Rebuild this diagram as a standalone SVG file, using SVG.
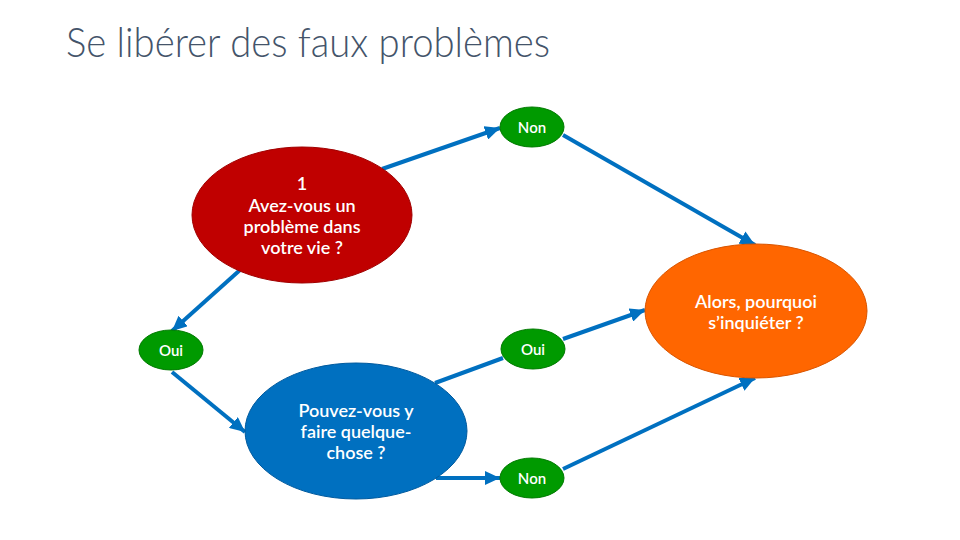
<svg xmlns="http://www.w3.org/2000/svg" width="960" height="540" viewBox="0 0 960 540">
<defs>
<style>
.title{font-family:Lato,"Liberation Sans",sans-serif;font-weight:300;font-size:41px;fill:#44546A}
.lbl{font-family:Lato,"Open Sans",sans-serif;font-weight:600;font-size:18px;fill:#ffffff;text-anchor:middle}
.sm{font-family:Lato,"Open Sans",sans-serif;font-weight:600;font-size:15px;fill:#ffffff;text-anchor:middle}
.con{stroke:#0070C0;stroke-width:4;fill:none}
.g{fill:#009A00;stroke:#007A00;stroke-width:1}
</style>
<marker id="ah" markerUnits="userSpaceOnUse" markerWidth="16" markerHeight="14" refX="15" refY="7" orient="auto">
<path d="M0,0 L15,7 L0,14 z" fill="#0070C0"/>
</marker>
</defs>
<rect width="960" height="540" fill="#ffffff"/>
<text class="title" x="66" y="57" textLength="484" lengthAdjust="spacingAndGlyphs">Se libérer des faux problèmes</text>

<g id="connectors">
<line class="con" x1="382" y1="169" x2="500" y2="128" marker-end="url(#ah)"/>
<line class="con" x1="563" y1="135" x2="755" y2="245" marker-end="url(#ah)"/>
<line class="con" x1="240" y1="270" x2="172" y2="331" marker-end="url(#ah)"/>
<line class="con" x1="172" y1="372" x2="245" y2="432" marker-end="url(#ah)"/>
<line class="con" x1="435" y1="383" x2="503" y2="358"/>
<line class="con" x1="563" y1="339" x2="645" y2="310" marker-end="url(#ah)"/>
<line class="con" x1="436" y1="478" x2="500" y2="478" marker-end="url(#ah)"/>
<line class="con" x1="563" y1="469" x2="755" y2="378" marker-end="url(#ah)"/>
</g>

<g id="q1">
<ellipse cx="302" cy="215" rx="110" ry="68" fill="#C00000" stroke="#A00000" stroke-width="1"/>
<text class="lbl" x="302" y="190">1</text>
<text class="lbl" x="302" y="212">Avez-vous un</text>
<text class="lbl" x="302" y="233">problème dans</text>
<text class="lbl" x="302" y="254">votre vie ?</text>
</g>

<g id="non1">
<ellipse class="g" cx="532" cy="127" rx="32" ry="20"/>
<text class="sm" x="532" y="133">Non</text>
</g>

<g id="oui1">
<ellipse class="g" cx="171" cy="350" rx="32" ry="20"/>
<text class="sm" x="171" y="356">Oui</text>
</g>

<g id="q2">
<ellipse cx="356" cy="431" rx="111" ry="68" fill="#0070C0" stroke="#005A9E" stroke-width="1"/>
<text class="lbl" x="356" y="417">Pouvez-vous y</text>
<text class="lbl" x="356" y="438">faire quelque-</text>
<text class="lbl" x="356" y="459">chose ?</text>
</g>

<g id="oui2">
<ellipse class="g" cx="533" cy="349" rx="32" ry="20"/>
<text class="sm" x="533" y="355">Oui</text>
</g>

<g id="non2">
<ellipse class="g" cx="532" cy="478" rx="32" ry="20"/>
<text class="sm" x="532" y="484">Non</text>
</g>

<g id="result">
<ellipse cx="756" cy="311" rx="111" ry="67" fill="#FF6600" stroke="#D95500" stroke-width="1"/>
<text class="lbl" x="756" y="308">Alors, pourquoi</text>
<text class="lbl" x="756" y="329">s’inquiéter ?</text>
</g>
</svg>
